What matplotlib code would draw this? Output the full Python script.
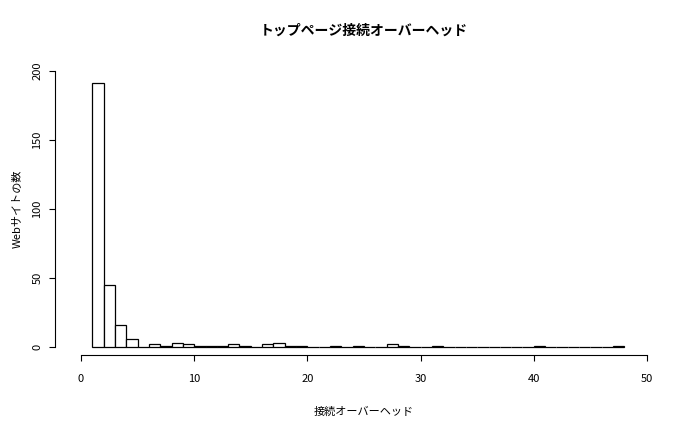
import matplotlib
matplotlib.use('Agg')
import matplotlib.pyplot as plt

plt.rcParams['font.family'] = ['Noto Sans CJK JP', 'DejaVu Sans']

# histogram bins (left edges, width 1) and counts
bin_left = list(range(1, 48))
counts = [191, 45, 16, 6, 0, 2, 1, 3, 2, 1,
          1, 1, 2, 1, 0, 2, 3, 1, 1, 0,
          0, 1, 0, 1, 0, 0, 2, 1, 0, 0,
          1, 0, 0, 0, 0, 0, 0, 0, 0, 1,
          0, 0, 0, 0, 0, 0, 1]
xticks = [0, 10, 20, 30, 40, 50]
yticks = [0, 50, 100, 150, 200]

fig = plt.figure(figsize=(7, 4.32), dpi=100)
ax = fig.add_axes([81/700, 85/432, 566/700, 276/432])

bars = ax.bar(bin_left, counts, width=1, align='edge', color='white',
              edgecolor='black', linewidth=0.9)
for b in bars:
    b.set_clip_on(False)

ax.set_xlim(0, 50)
ax.set_ylim(0, 200)
ax.set_xticks(xticks)
ax.set_yticks(yticks)
ax.spines['top'].set_visible(False)
ax.spines['right'].set_visible(False)
ax.spines['left'].set_position(('outward', 18.7))
ax.spines['bottom'].set_position(('outward', 5.8))
ax.spines['left'].set_bounds(0, 200)
ax.spines['bottom'].set_bounds(0, 50)
ax.tick_params(length=4, width=0.8, labelsize=8)
ax.tick_params(axis='x', pad=10)
ax.tick_params(axis='y', pad=5)
for lab in ax.get_yticklabels():
    lab.set_rotation(90)
    lab.set_va('center')

ax.set_title('トップページ接続オーバーヘッド', fontsize=10, fontweight='bold', pad=26)
ax.set_xlabel('接続オーバーヘッド', fontsize=8, labelpad=16)
ax.set_ylabel('Webサイトの数', fontsize=8, labelpad=8)

fig.savefig('out.png', dpi=100)
